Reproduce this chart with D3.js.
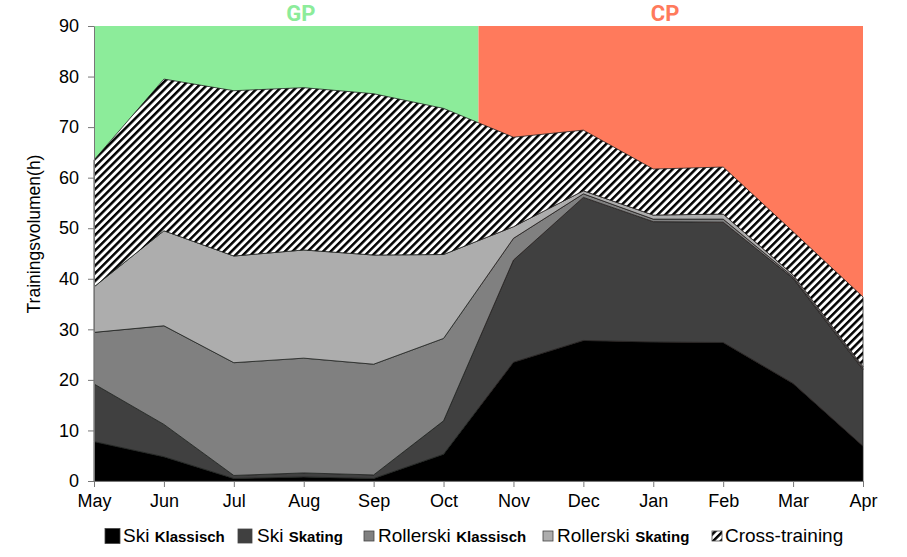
<!DOCTYPE html>
<html>
<head>
<meta charset="utf-8">
<script src="https://cdn.jsdelivr.net/npm/d3@7"></script>
<style>
  body { margin: 0; background: #fff; }
  text { font-family: "Liberation Sans", Arial, sans-serif; }
</style>
</head>
<body>
<div id="chart"></div>
<script>
// data (hours per month)
var months = ["May", "Jun", "Jul", "Aug", "Sep", "Oct", "Nov", "Dec", "Jan", "Feb", "Mar", "Apr"];
var skiKlassisch   = [7.8, 4.8, 0.5, 0.8, 0.5, 5.3, 23.5, 27.8, 27.5, 27.4, 19.3, 6.9];
var skiSkating     = [11.4, 6.4, 0.6, 0.8, 0.7, 6.6, 20.2, 28.3, 23.8, 23.8, 20.8, 15.1];
var rollKlassisch  = [10.2, 19.5, 22.3, 22.7, 21.9, 16.3, 4.3, 0.7, 0.5, 0.6, 0.3, 0.3];
var rollSkating    = [9.0, 18.8, 21.1, 21.4, 21.6, 16.6, 2.3, 0.6, 0.8, 1.0, 0.4, 0.3];
var crossTraining  = [25.1, 30.0, 32.7, 32.1, 31.9, 28.9, 17.7, 12.0, 9.1, 9.3, 8.5, 13.8];
var yTicks = [0, 10, 20, 30, 40, 50, 60, 70, 80, 90];
var phases = [ {name: "GP", from: 0, to: 5.5, label: 2.96}, {name: "CP", from: 5.5, to: 11, label: 8.17} ];

var keys = ["sk", "ss", "rk", "rs", "ct"];
var table = months.map(function(m, i) {
  return {i: i, sk: skiKlassisch[i], ss: skiSkating[i], rk: rollKlassisch[i], rs: rollSkating[i], ct: crossTraining[i]};
});

var width = 907, height = 557;
var svg = d3.select("#chart").append("svg").attr("width", width).attr("height", height);

var defs = svg.append("defs");
var pat = defs.append("pattern")
  .attr("id", "hatch")
  .attr("patternUnits", "userSpaceOnUse")
  .attr("width", 5.4).attr("height", 5.4)
  .attr("patternTransform", "rotate(45)");
pat.append("rect").attr("width", 5.4).attr("height", 5.4).attr("fill", "#fff");
pat.append("rect").attr("x", 0).attr("width", 2.5).attr("height", 5.4).attr("fill", "#000");

var x = d3.scaleLinear().domain([0, 11]).range([94, 863]);
var y = d3.scaleLinear().domain([0, 90]).range([481, 26]);

var phaseColor = {GP: "#8cec9a", CP: "#ff7a5c"};

// phase backgrounds
svg.selectAll(".phase").data(phases).enter().append("rect")
  .attr("x", function(d) { return x(d.from); })
  .attr("y", y(90))
  .attr("width", function(d) { return x(d.to) - x(d.from); })
  .attr("height", y(0) - y(90))
  .attr("fill", function(d) { return phaseColor[d.name]; });

svg.selectAll(".phaseLabel").data(phases).enter().append("text")
  .attr("x", function(d) { return x(d.label); })
  .attr("y", 21)
  .attr("text-anchor", "middle")
  .style("font-family", "Roboto, 'Liberation Sans', sans-serif")
  .style("font-weight", "bold")
  .style("font-size", "22px")
  .attr("fill", function(d) { return phaseColor[d.name]; })
  .text(function(d) { return d.name; });

var fills = {sk: "#000000", ss: "#404040", rk: "#808080", rs: "#adadad", ct: "url(#hatch)"};

var stack = d3.stack().keys(keys);
var series = stack(table);

var area = d3.area()
  .x(function(d) { return x(d.data.i); })
  .y0(function(d) { return y(d[0]); })
  .y1(function(d) { return y(d[1]); });

svg.selectAll(".layer").data(series).enter().append("path")
  .attr("d", area)
  .attr("fill", function(d) { return fills[d.key]; })
  .attr("stroke", "#222")
  .attr("stroke-width", 0.8)
  .attr("stroke-linejoin", "round");

// axes
var yAxis = d3.axisLeft(y).tickValues(yTicks).tickSize(6).tickSizeOuter(0);
var gy = svg.append("g").attr("transform", "translate(" + x(0) + ",0)").call(yAxis);
gy.select(".domain").attr("stroke", "#777");
gy.selectAll(".tick line").attr("stroke", "#777");
gy.selectAll(".tick text").attr("fill", "#000").style("font-size", "18px").attr("x", -15);

var xAxis = d3.axisBottom(x).tickValues(d3.range(months.length))
  .tickFormat(function(i) { return months[i]; }).tickSize(6).tickSizeOuter(0);
var gx = svg.append("g").attr("transform", "translate(0," + y(0) + ")").call(xAxis);
gx.select(".domain").attr("stroke", "#777");
gx.selectAll(".tick line").attr("stroke", "#777");
gx.selectAll(".tick text").attr("fill", "#000").style("font-size", "18px").attr("dy", "0.71em").attr("y", 13);

svg.append("text")
  .attr("transform", "translate(40,234) rotate(-90)")
  .attr("text-anchor", "middle")
  .style("font-size", "17.5px")
  .text("Trainingsvolumen(h)");

// legend
var legend = [
  {key: "sk", a: "Ski ", b: "Klassisch", x: 105, s: 15, t: 123},
  {key: "ss", a: "Ski ", b: "Skating", x: 238, s: 14, t: 257},
  {key: "rk", a: "Rollerski ", b: "Klassisch", x: 364, s: 10, t: 378},
  {key: "rs", a: "Rollerski ", b: "Skating", x: 543, s: 10, t: 557},
  {key: "ct", a: "Cross-training", b: "", x: 712, s: 10, t: 725}
];
var lg = svg.selectAll(".leg").data(legend).enter().append("g");
lg.append("rect")
  .attr("x", function(d) { return d.x; })
  .attr("y", function(d) { return 536 - d.s / 2; })
  .attr("width", function(d) { return d.s; })
  .attr("height", function(d) { return d.s; })
  .attr("fill", function(d) { return fills[d.key]; })
  .attr("stroke", "#444").attr("stroke-width", 0.8);
var lt = lg.append("text").attr("x", function(d) { return d.t; }).attr("y", 542).style("font-size", "19px");
lt.append("tspan").text(function(d) { return d.a; });
lt.append("tspan").style("font-weight", "bold").style("font-size", "15px").text(function(d) { return d.b; });
</script>
</body>
</html>
